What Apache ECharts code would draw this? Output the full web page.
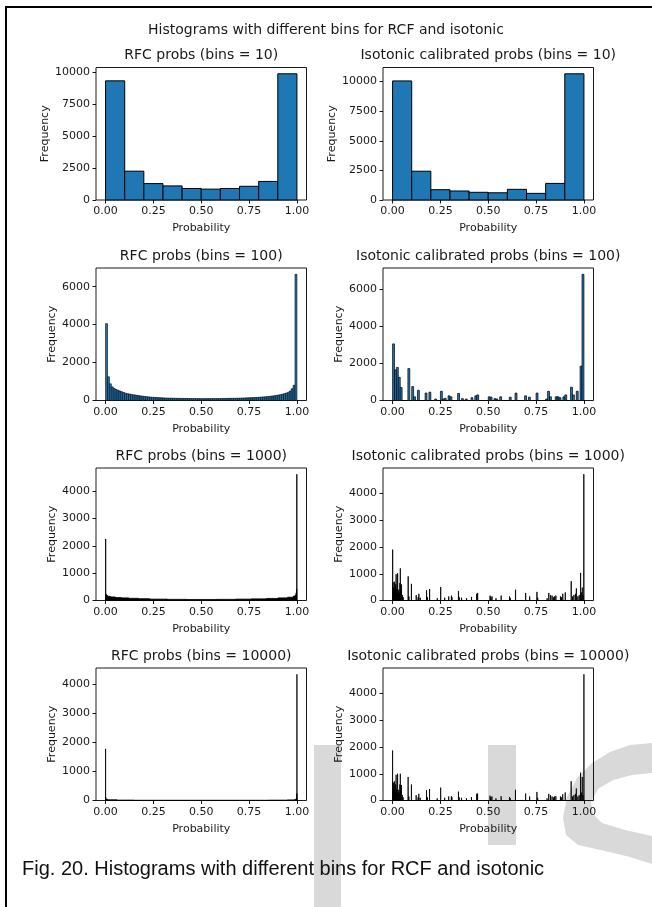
<!DOCTYPE html>
<html><head><meta charset="utf-8">
<script src="https://cdn.jsdelivr.net/npm/echarts@6/dist/echarts.min.js"></script>
<style>html,body{margin:0;padding:0;background:#fff}#c{width:652px;height:907px}</style>
</head><body><div id="c"></div><script>
// ---------------- data ----------------
const suptitle = 'Histograms with different bins for RCF and isotonic';
const caption = 'Fig. 20. Histograms with different bins for RCF and isotonic';
const panelTitles = [
  'RFC probs (bins = 10)', 'Isotonic calibrated probs (bins = 10)',
  'RFC probs (bins = 100)', 'Isotonic calibrated probs (bins = 100)',
  'RFC probs (bins = 1000)', 'Isotonic calibrated probs (bins = 1000)',
  'RFC probs (bins = 10000)', 'Isotonic calibrated probs (bins = 10000)'
];
const xLabel = 'Probability';
const yLabel = 'Frequency';
const xTicks = [0, 0.25, 0.5, 0.75, 1];
const yTicks2500 = [0, 2500, 5000, 7500, 10000];
const yTicks2000 = [0, 2000, 4000, 6000];
const yTicks1000 = [0, 1000, 2000, 3000, 4000];

const rfc10 = [9300, 2250, 1280, 1100, 900, 850, 900, 1070, 1450, 9850];
const iso10 = [10050, 2430, 870, 760, 650, 610, 900, 560, 1400, 10650];

const rfc100 = [
  4050, 1250, 880, 720, 640, 580, 540, 500, 460, 420,
  380, 360, 340, 320, 300, 290, 270, 255, 240, 225,
  210, 200, 190, 180, 170, 165, 160, 150, 145, 140,
  135, 130, 128, 125, 122, 120, 118, 115, 112, 110,
  108, 106, 105, 104, 103, 102, 100, 100, 98, 98,
  97, 97, 98, 98, 99, 100, 100, 102, 103, 104,
  105, 106, 108, 110, 112, 114, 116, 118, 120, 123,
  126, 130, 134, 138, 142, 146, 150, 155, 160, 166,
  172, 180, 188, 196, 205, 215, 228, 240, 255, 272,
  290, 310, 335, 360, 390, 430, 500, 620, 800, 6650
];
const iso100 = [
  3050, 1650, 1780, 1250, 700, 0, 0, 0, 1720, 0,
  750, 200, 0, 550, 0, 0, 0, 400, 0, 450,
  0, 0, 80, 0, 0, 500, 80, 120, 0, 250,
  200, 0, 0, 0, 380, 0, 100, 0, 80, 0,
  0, 150, 0, 250, 300, 0, 0, 0, 0, 0,
  200, 180, 0, 100, 80, 0, 200, 0, 0, 0,
  0, 180, 0, 0, 400, 0, 0, 0, 0, 250,
  0, 180, 0, 0, 0, 400, 0, 0, 0, 0,
  80, 500, 200, 0, 0, 200, 200, 150, 0, 200,
  300, 0, 0, 720, 300, 0, 500, 0, 1850, 6800
];
// runs of consecutive bins with about the same count: [firstBin, lastBin, count]
const rfc1000Runs = [
  [0, 0, 2250], [1, 3, 230], [4, 10, 180], [11, 25, 150], [26, 50, 130], [51, 80, 110],
  [81, 120, 95], [121, 170, 80], [171, 230, 65], [231, 320, 50], [321, 420, 42],
  [421, 580, 38], [581, 680, 42], [681, 760, 50], [761, 840, 60], [841, 900, 75],
  [901, 950, 95], [951, 980, 120], [981, 990, 160], [991, 994, 200], [995, 997, 280],
  [998, 998, 420], [999, 999, 4620]
];
const rfc10000Runs = [
  [0, 0, 1780], [1, 5, 110], [6, 30, 60], [31, 100, 40], [101, 600, 25], [601, 1500, 14],
  [1501, 8500, 8], [8501, 9500, 12], [9501, 9900, 20], [9901, 9980, 40], [9981, 9995, 80],
  [9996, 9998, 240], [9999, 9999, 4350]
];
// sparse non-empty bins: [bin, count]
const iso1000 = [
  [0, 1900], [1, 450], [2, 680], [3, 300], [5, 480], [7, 400], [10, 700], [13, 350], [16, 600],
  [18, 980], [21, 420], [24, 300], [26, 1020], [29, 250], [32, 400], [35, 300], [38, 650],
  [40, 1200], [43, 380], [46, 600], [51, 200], [55, 120], [81, 900], [85, 150], [98, 620],
  [123, 200], [133, 120], [137, 250], [144, 100], [177, 380], [182, 120], [193, 430],
  [233, 80], [251, 500], [272, 100], [293, 150], [307, 180], [310, 120], [344, 350],
  [348, 120], [360, 100], [386, 80], [412, 130], [439, 250], [444, 280], [509, 180],
  [513, 120], [519, 150], [540, 80], [567, 180], [611, 150], [615, 80], [642, 400],
  [695, 280], [716, 150], [754, 320], [758, 100], [807, 80], [816, 280], [825, 200],
  [833, 180], [840, 120], [846, 150], [853, 180], [877, 150], [882, 120], [889, 250],
  [902, 300], [933, 720], [940, 150], [947, 200], [955, 250], [960, 450], [968, 150],
  [975, 200], [982, 1030], [986, 300], [991, 480], [995, 200], [999, 4720]
];
const iso10000 = [
  [0, 1870], [4, 450], [15, 700], [22, 350], [30, 480], [50, 650], [75, 400], [105, 720],
  [130, 350], [160, 600], [185, 960], [215, 420], [240, 300], [262, 1000], [292, 250],
  [320, 400], [350, 300], [380, 600], [405, 1000], [432, 380], [462, 580], [512, 200],
  [550, 120], [812, 880], [850, 150], [985, 600], [1232, 200], [1335, 120], [1372, 250],
  [1442, 100], [1772, 380], [1825, 120], [1932, 430], [2332, 80], [2512, 480], [2722, 100],
  [2932, 150], [3072, 160], [3102, 120], [3442, 330], [3482, 120], [3602, 100], [3862, 80],
  [4122, 130], [4392, 250], [4442, 260], [5092, 180], [5132, 120], [5192, 150], [5402, 80],
  [5672, 160], [6112, 130], [6152, 80], [6422, 400], [6952, 260], [7162, 150], [7542, 320],
  [7582, 100], [8072, 80], [8162, 250], [8252, 200], [8332, 150], [8402, 120], [8462, 150],
  [8532, 160], [8772, 150], [8822, 120], [8892, 230], [9022, 300], [9332, 720], [9402, 150],
  [9472, 200], [9552, 250], [9602, 450], [9682, 150], [9752, 200], [9822, 1040], [9862, 300],
  [9912, 880], [9952, 200], [9999, 4720]
];

// ---------------- build ----------------
function fromCounts(arr) { const n = arr.length; return arr.map((v, i) => [i / n, (i + 1) / n, v]); }
function fromRuns(runs, n) { return runs.map(r => [r[0] / n, (r[1] + 1) / n, r[2]]); }
function fromSparse(list, n) { return [[0, 1, 0]].concat(list.map(r => [r[0] / n, (r[0] + 1) / n, r[1]])); }

const BLUE = '#1f77b4';
const panels = [
  { items: fromCounts(rfc10), fill: BLUE, lw: 1, ticks: yTicks2500 },
  { items: fromCounts(iso10), fill: BLUE, lw: 1, ticks: yTicks2500 },
  { items: fromCounts(rfc100), fill: BLUE, lw: 0.6, ticks: yTicks2000 },
  { items: fromCounts(iso100), fill: BLUE, lw: 0.7, ticks: yTicks2000 },
  { items: fromRuns(rfc1000Runs, 1000), fill: '#000', lw: 0.8, ticks: yTicks1000 },
  { items: fromSparse(iso1000, 1000), fill: '#000', lw: 0.8, ticks: yTicks1000 },
  { items: fromRuns(rfc10000Runs, 10000), fill: '#000', lw: 0.8, ticks: yTicks1000 },
  { items: fromSparse(iso10000, 10000), fill: '#000', lw: 0.8, ticks: yTicks1000 }
];

const FONT = 'DejaVu Sans';
const TXT = '#1a1a1a';
const colLeft = [96, 383];
const rowTop = [67.5, 268, 468, 668];
const PW = 210.5, PH = 132.5;

const grids = [], xAxes = [], yAxes = [], series = [], texts = [];
panels.forEach((p, k) => {
  const r = Math.floor(k / 2), c = k % 2;
  const left = colLeft[c], top = rowTop[r];
  grids.push({ left, top, width: PW, height: PH, show: true, borderColor: '#000', borderWidth: 0.9, backgroundColor: 'transparent' });
  const ymax = Math.max(...p.items.map(d => d[2])) * 1.05;
  xAxes.push({
    type: 'value', gridIndex: k, min: -0.05, max: 1.05,
    name: xLabel, nameLocation: 'middle', nameGap: 23,
    nameTextStyle: { fontFamily: FONT, fontSize: 11, color: TXT },
    axisLine: { show: false, onZero: false },
    axisTick: { show: true, inside: false, length: 3.5, customValues: xTicks, lineStyle: { color: '#000', width: 0.9 } },
    axisLabel: { customValues: xTicks, margin: 6, fontFamily: FONT, fontSize: 11, color: TXT, formatter: v => v.toFixed(2) },
    splitLine: { show: false }
  });
  yAxes.push({
    type: 'value', gridIndex: k, min: 0, max: ymax,
    name: yLabel, nameLocation: 'middle', nameGap: 38, nameRotate: 90,
    nameTextStyle: { fontFamily: FONT, fontSize: 11, color: TXT },
    axisLine: { show: false, onZero: false },
    axisTick: { show: true, inside: false, length: 3.5, customValues: p.ticks, lineStyle: { color: '#000', width: 0.9 } },
    axisLabel: { customValues: p.ticks, margin: 6, fontFamily: FONT, fontSize: 11, color: TXT, formatter: v => String(v) },
    splitLine: { show: false }
  });
  series.push({
    type: 'custom', xAxisIndex: k, yAxisIndex: k, z: 3,
    encode: { x: [0, 1], y: 2 },
    data: p.items,
    renderItem: (params, api) => {
      const a = api.coord([api.value(0), api.value(2)]);
      const b = api.coord([api.value(1), 0]);
      return {
        type: 'rect',
        shape: { x: a[0], y: a[1], width: b[0] - a[0], height: b[1] - a[1] },
        style: { fill: p.fill, stroke: '#000', lineWidth: p.lw }
      };
    }
  });
  texts.push({
    type: 'text', z: 10, x: left + PW / 2, y: top - 12,
    style: { text: panelTitles[k], textAlign: 'center', textVerticalAlign: 'middle', font: '14px "' + FONT + '"', fill: TXT }
  });
});

const WM = '#d9d9d9';
const watermark = [
  { type: 'rect', z: -5, shape: { x: 314, y: 745, width: 27, height: 162 }, style: { fill: WM } },
  { type: 'rect', z: -5, shape: { x: 488, y: 745, width: 28, height: 100 }, style: { fill: WM } },
  { type: 'polygon', z: -5, shape: { points: [
    [652, 743], [630, 745], [610, 752], [592, 763], [577, 778], [567, 797], [563, 818], [566, 835],
    [578, 845], [605, 851], [630, 857], [652, 864], [652, 836], [625, 830], [602, 823], [593, 814],
    [591, 802], [598, 789], [613, 780], [632, 775], [652, 773]
  ] }, style: { fill: WM } }
];

const frame = [
  { type: 'line', z: 10, shape: { x1: 5, y1: 7, x2: 652, y2: 7 }, style: { stroke: '#000', lineWidth: 2 } },
  { type: 'line', z: 10, shape: { x1: 6, y1: 6, x2: 6, y2: 907 }, style: { stroke: '#000', lineWidth: 2 } }
];

texts.push({
  type: 'text', z: 10, x: 326, y: 30,
  style: { text: suptitle, textAlign: 'center', textVerticalAlign: 'middle', font: '14px "' + FONT + '"', fill: TXT }
});
texts.push({
  type: 'text', z: 10, x: 22, y: 869,
  style: { text: caption, textAlign: 'left', textVerticalAlign: 'middle', font: '20px "Liberation Sans", Arial, sans-serif', fill: '#111' }
});

const chart = echarts.init(document.getElementById('c'), null, { renderer: 'canvas' });
chart.setOption({
  animation: false,
  backgroundColor: '#fff',
  grid: grids, xAxis: xAxes, yAxis: yAxes, series: series,
  graphic: { elements: watermark.concat(frame, texts) }
});
</script></body></html>
